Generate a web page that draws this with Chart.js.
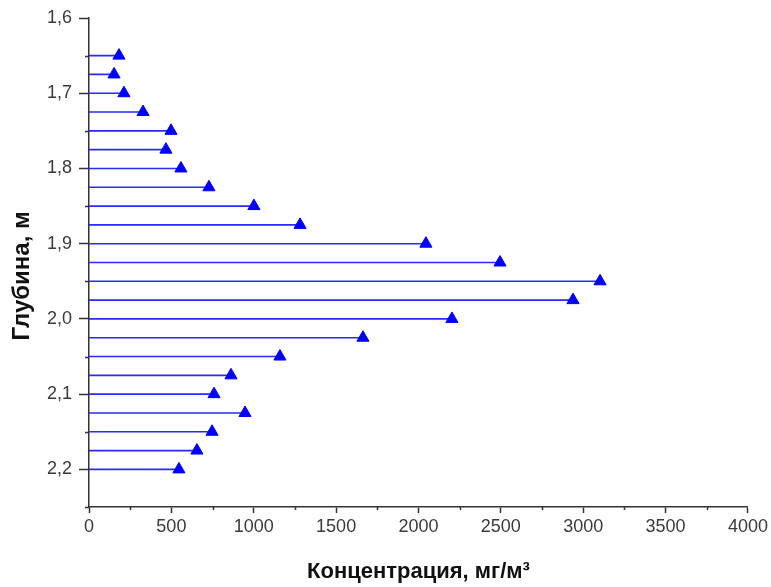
<!DOCTYPE html>
<html>
<head>
<meta charset="utf-8">
<script src="https://cdn.jsdelivr.net/npm/chart.js@4.4.1/dist/chart.umd.min.js"></script>
<style>
  html, body { margin: 0; padding: 0; background: #fff; }
  canvas { display: block; }
</style>
</head>
<body>
<canvas id="c" width="771" height="587"></canvas>
<script>
// Depth (m) for each measurement
const depths = [1.65, 1.675, 1.7, 1.725, 1.75, 1.775, 1.8, 1.825, 1.85, 1.875, 1.9, 1.925, 1.95, 1.975, 2.0, 2.025, 2.05, 2.075, 2.1, 2.125, 2.15, 2.175, 2.2];
// Concentration (mg/m3)
const concentrations = [182, 152, 212, 328, 498, 467, 558, 728, 1001, 1281, 2045, 2495, 3102, 2938, 2203, 1663, 1159, 862, 759, 947, 747, 655, 546];
// Axis tick values
const yMajorTicks = [1.6, 1.7, 1.8, 1.9, 2.0, 2.1, 2.2];
const yMinorTicks = [1.65, 1.75, 1.85, 1.95, 2.05, 2.15, 2.25];
const xMajorTicks = [0, 500, 1000, 1500, 2000, 2500, 3000, 3500, 4000];
const xMinorTicks = [250, 750, 1250, 1750, 2250, 2750, 3250, 3750];
const yTitle = 'Глубина, м';
const xTitle = 'Концентрация, мг/м³';

const stemData = [];
depths.forEach((d, i) => {
  stemData.push({x: 0, y: d});
  stemData.push({x: concentrations[i], y: d});
  stemData.push({x: null, y: null});
});
const markerData = depths.map((d, i) => ({x: concentrations[i], y: d}));

const AXIS_COLOR = '#333333';
const FONT = 'Liberation Sans, Arial, sans-serif';

const minorTicksPlugin = {
  id: 'minorTicks',
  afterDraw(chart) {
    const ctx = chart.ctx;
    const xs = chart.scales.x, ys = chart.scales.y;
    ctx.save();
    ctx.strokeStyle = AXIS_COLOR;
    ctx.lineWidth = 1.5;
    ctx.beginPath();
    xMinorTicks.forEach(v => {
      const px = Math.round(xs.getPixelForValue(v)) + 0.5;
      ctx.moveTo(px, xs.top);
      ctx.lineTo(px, xs.top + 3);
    });
    yMinorTicks.forEach(v => {
      const py = Math.round(ys.getPixelForValue(v)) + 0.5;
      ctx.moveTo(ys.right, py);
      ctx.lineTo(ys.right - 4, py);
    });
    ctx.stroke();
    ctx.restore();
  }
};

new Chart(document.getElementById('c'), {
  type: 'scatter',
  data: {
    datasets: [
      {
        data: stemData,
        showLine: true,
        spanGaps: false,
        borderColor: '#2a2aff',
        borderWidth: 1.6,
        pointRadius: 0,
        pointHoverRadius: 0,
        order: 2
      },
      {
        data: markerData,
        pointStyle: 'triangle',
        pointRadius: 7,
        backgroundColor: '#0000ff',
        borderColor: '#0000ff',
        borderWidth: 1,
        order: 1
      }
    ]
  },
  plugins: [minorTicksPlugin],
  options: {
    responsive: false,
    animation: false,
    layout: { padding: { top: 18, right: 23, left: 0, bottom: 0 } },
    plugins: { legend: { display: false }, tooltip: { enabled: false } },
    scales: {
      x: {
        type: 'linear',
        min: 0, max: 4000,
        afterBuildTicks: s => { s.ticks = xMajorTicks.map(v => ({value: v})); },
        afterFit: s => { s.height = 80; },
        ticks: {
          font: { family: FONT, size: 18 },
          color: '#3a3a3a',
          padding: 3,
          maxRotation: 0,
          autoSkip: false,
          callback: v => String(v)
        },
        grid: { drawOnChartArea: false, drawTicks: true, tickLength: 6, tickWidth: 1.5, tickColor: AXIS_COLOR },
        border: { color: AXIS_COLOR, width: 1.5 },
        title: {
          display: true,
          text: xTitle,
          font: { family: FONT, size: 22, weight: 'bold' },
          color: '#111111',
          padding: { top: 14, bottom: 2 }
        }
      },
      y: {
        type: 'linear',
        reverse: true,
        min: 1.6, max: 2.25,
        afterBuildTicks: s => { s.ticks = yMajorTicks.map(v => ({value: v})); },
        afterFit: s => { s.width = 89; },
        ticks: {
          font: { family: FONT, size: 18 },
          color: '#3a3a3a',
          padding: 7,
          autoSkip: false,
          callback: v => v.toFixed(1).replace('.', ',')
        },
        grid: { drawOnChartArea: false, drawTicks: true, tickLength: 10, tickWidth: 1.5, tickColor: AXIS_COLOR },
        border: { color: AXIS_COLOR, width: 1.5 },
        title: {
          display: true,
          text: yTitle + '    ',
          font: { family: FONT, size: 24, weight: 'bold' },
          color: '#111111',
          padding: { top: 8, bottom: 0 }
        }
      }
    }
  }
});
</script>
</body>
</html>
